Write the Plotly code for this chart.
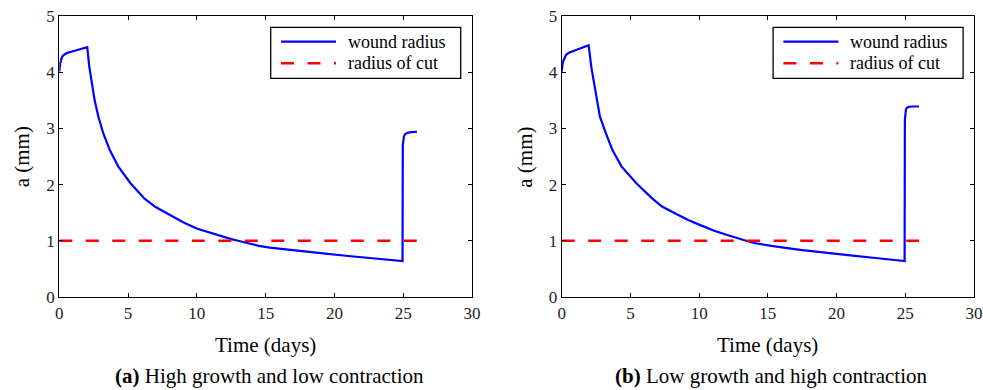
import plotly.graph_objects as go

# ---- data ----
t_a = [0, 0.03, 0.07, 0.13, 0.22, 0.35, 0.54, 0.8, 1.1, 1.5, 1.8, 2.03,
       2.18, 2.38, 2.57, 2.84, 3.2, 3.68, 4.29, 5.19, 6.2, 7.0, 8.04, 9.0, 9.98,
       11.0, 11.9, 12.5, 13.0, 13.8, 14.5, 15.3, 17, 19, 21, 23, 24.95,
       24.97, 25.0, 25.05, 25.15, 25.3, 25.6, 26.0]
a_a = [4.01, 4.10, 4.16, 4.22, 4.28, 4.31, 4.34, 4.36, 4.38, 4.40, 4.42, 4.445,
       4.10, 3.80, 3.50, 3.21, 2.91, 2.61, 2.32, 2.02, 1.75, 1.60, 1.46, 1.33, 1.22,
       1.14, 1.07, 1.03, 1.00, 0.95, 0.91, 0.88, 0.83, 0.78, 0.73, 0.685, 0.64,
       2.70, 2.80, 2.86, 2.90, 2.92, 2.935, 2.94]

t_b = [0, 0.03, 0.07, 0.12, 0.2, 0.32, 0.48, 0.8, 1.1, 1.4, 1.7, 1.96,
       2.15, 2.35, 2.54, 2.78, 3.22, 3.70, 4.36, 5.45, 6.6, 7.3, 8.23, 9.2, 10.17,
       11.1, 12.1, 12.7, 13.3, 14.0, 14.7, 15.5, 17.35, 19, 21, 23, 24.95,
       24.97, 25.0, 25.05, 25.12, 25.3, 25.6, 26.0]
a_b = [4.01, 4.10, 4.16, 4.20, 4.26, 4.31, 4.34, 4.37, 4.40, 4.43, 4.455, 4.48,
       4.10, 3.80, 3.51, 3.21, 2.91, 2.61, 2.32, 2.02, 1.75, 1.61, 1.49, 1.37, 1.27,
       1.18, 1.10, 1.05, 1.01, 0.96, 0.93, 0.90, 0.84, 0.79, 0.74, 0.69, 0.64,
       3.15, 3.29, 3.34, 3.37, 3.385, 3.39, 3.39]

cut_t = [0, 26]
cut_r = [1, 1]

x_ticks = [0, 5, 10, 15, 20, 25, 30]
y_ticks = [0, 1, 2, 3, 4, 5]

series_names = ["wound radius", "radius of cut"]
captions = ["<b>(a)</b> High growth and low contraction",
            "<b>(b)</b> Low growth and high contraction"]

W, H = 983, 390
FONT = "Liberation Serif, Times New Roman, Times, serif"
BLUE, RED = "#0000ff", "#ff0000"
DASH = "13px,13.5px"

fig = go.Figure()

panels = [
    dict(t=t_a, a=a_a, xa="x", ya="y", x0=59.3, x1=472.0),
    dict(t=t_b, a=a_b, xa="x2", ya="y2", x0=561.7, x1=974.0),
]

y_top, y_bot = 16.0, 297.0
yd = [1 - y_bot / H, 1 - y_top / H]

for i, p in enumerate(panels):
    fig.add_trace(go.Scatter(x=p["t"], y=p["a"], mode="lines", name=series_names[0],
                             line=dict(color=BLUE, width=2.2), showlegend=False,
                             xaxis=p["xa"], yaxis=p["ya"]))
    fig.add_trace(go.Scatter(x=cut_t, y=cut_r, mode="lines", name=series_names[1],
                             line=dict(color=RED, width=2.4, dash=DASH), showlegend=False,
                             xaxis=p["xa"], yaxis=p["ya"]))

axis_common = dict(showline=True, linecolor="black", linewidth=1.3, mirror="ticks",
                   ticks="inside", ticklen=4, tickcolor="black", tickwidth=1,
                   showgrid=False, zeroline=False, automargin=False,
                   tickfont=dict(family=FONT, size=17, color="#222"))

layout = dict(
    width=W, height=H, margin=dict(l=0, r=0, t=0, b=0, autoexpand=False),
    paper_bgcolor="white", plot_bgcolor="white",
    font=dict(family=FONT, color="black"),
    showlegend=False,
)
for i, p in enumerate(panels):
    sfx = "" if i == 0 else "2"
    layout["xaxis" + sfx] = dict(axis_common, domain=[p["x0"] / W, p["x1"] / W], range=[0, 30],
                                 tickvals=x_ticks, anchor="y" + sfx)
    layout["yaxis" + sfx] = dict(axis_common, domain=yd, range=[0, 5], tickvals=y_ticks,
                                 anchor="x" + sfx)
fig.update_layout(**layout)


def px(x):
    return x / W


def py(y):
    return 1 - y / H


shapes = []
annos = []
for i, p in enumerate(panels):
    off = p["x0"] - 59.3
    # legend box
    bx0, bx1, by0, by1 = 270.7 + off, 460.7 + off, 27.3, 78.3
    shapes.append(dict(type="rect", xref="paper", yref="paper", layer="above",
                       x0=px(bx0), x1=px(bx1), y0=py(by1), y1=py(by0),
                       line=dict(color="black", width=1.3), fillcolor="white"))
    rows = [(41.7, BLUE, "solid", 2.2), (63.3, RED, DASH, 2.4)]
    for (ry, col, dsh, lw), name in zip(rows, series_names):
        shapes.append(dict(type="line", xref="paper", yref="paper", layer="above",
                           x0=px(281 + off), x1=px(336 + off), y0=py(ry), y1=py(ry),
                           line=dict(color=col, width=lw, dash=dsh)))
        annos.append(dict(x=px(346 + off), y=py(ry), xref="paper", yref="paper", text=name,
                          showarrow=False, xanchor="left", yanchor="middle",
                          font=dict(family=FONT, size=18, color="black")))

    cx = (p["x0"] + p["x1"]) / 2
    annos.append(dict(x=px(cx), y=py(345), xref="paper", yref="paper", text="Time (days)",
                      showarrow=False, font=dict(family=FONT, size=21, color="black"),
                      xanchor="center", yanchor="middle"))
    annos.append(dict(x=px(p["x0"] - 37), y=py(157), xref="paper", yref="paper", text="a (mm)",
                      showarrow=False, textangle=-90, font=dict(family=FONT, size=21, color="black"),
                      xanchor="center", yanchor="middle"))
    annos.append(dict(x=px(cx + 4), y=py(376), xref="paper", yref="paper", text=captions[i],
                      showarrow=False, font=dict(family=FONT, size=21, color="black"),
                      xanchor="center", yanchor="middle"))
fig.update_layout(shapes=shapes, annotations=annos)

fig.write_html("out.html")
